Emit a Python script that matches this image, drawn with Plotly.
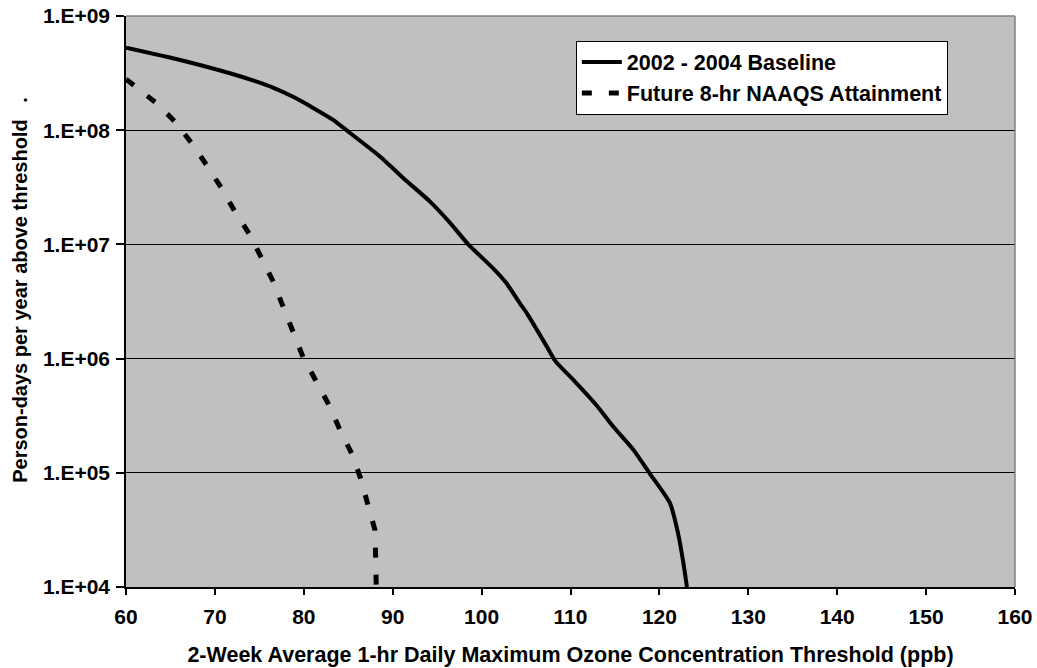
import plotly.graph_objects as go

# ---- data ----
baseline_x = [60, 66.1, 71.7, 74.7, 76.6, 78.8, 81.1, 83.3, 84.8, 88.6, 91.2, 94.2, 96.5,
              98.5, 101.3, 102.8, 104.3, 105.1, 107.3, 108.3, 110.5, 112.9, 114.8, 117.1,
              118.9, 121.2, 122.1, 122.7, 123.1]
baseline_y = [5.28e8, 4.12e8, 3.15e8, 2.66e8, 2.35e8, 1.96e8, 1.56e8, 1.23e8, 1.0e8,
              5.86e7, 3.8e7, 2.37e7, 1.53e7, 1.0e7, 6.17e6, 4.57e6, 3.05e6, 2.49e6,
              1.29e6, 9.5e5, 6.3e5, 3.93e5, 2.54e5, 1.58e5, 9.9e4, 5.4e4, 2.95e4,
              1.62e4, 1.0e4]

future_x = [60, 63.45, 65.5, 67.4, 69.07, 70.76, 72.26, 73.95, 75.26, 76.57, 78.2,
            79.94, 81.33, 82.83, 84.07, 85.38, 86.4, 87.26, 88.0, 88.08, 88.15]
future_y = [2.8e8, 1.72e8, 1.19e8, 7.67e7, 4.95e7, 3.09e7, 1.93e7, 1.21e7, 7.55e6,
            4.71e6, 2.24e6, 1.02e6, 6.46e5, 3.93e5, 2.37e5, 1.48e5, 8.9e4, 5.33e4,
            3.16e4, 1.86e4, 1.0e4]

x_ticks = [60, 70, 80, 90, 100, 110, 120, 130, 140, 150, 160]
y_tickvals = [1e4, 1e5, 1e6, 1e7, 1e8, 1e9]
y_ticktext = ["1.E+04", "1.E+05", "1.E+06", "1.E+07", "1.E+08", "1.E+09"]

series_names = ["2002 - 2004 Baseline", "Future 8-hr NAAQS Attainment"]
x_title = "2-Week Average 1-hr Daily Maximum Ozone Concentration Threshold (ppb)"
y_title = "Person-days per year above threshold" + "\u00a0" * 3 + "."

FONT = "Arial, 'Liberation Sans', sans-serif"

fig = go.Figure()
fig.add_trace(go.Scatter(x=baseline_x, y=baseline_y, mode="lines", name=series_names[0],
                         line=dict(color="black", width=4, shape="spline", smoothing=0.6)))
fig.add_trace(go.Scatter(x=future_x, y=future_y, mode="lines", name=series_names[1],
                         line=dict(color="black", width=5, dash="10px,17px")))

fig.update_layout(
    width=1037, height=668,
    margin=dict(l=126, r=22, t=16, b=81, autoexpand=False),
    paper_bgcolor="white",
    plot_bgcolor="#C0C0C0",
    font=dict(family=FONT, size=21, color="black", weight="bold"),
    showlegend=True,
    legend=dict(
        x=0.506, y=0.957, xanchor="left", yanchor="top",
        bgcolor="white", bordercolor="black", borderwidth=1,
        font=dict(family=FONT, size=21.5, color="black", weight="bold"),
        tracegroupgap=0, itemwidth=40,
    ),
    xaxis=dict(
        type="linear", range=[60, 160], tickvals=x_ticks, automargin=False,
        showgrid=False, zeroline=False,
        showline=True, linecolor="black", linewidth=1.5,
        ticks="outside", ticklen=6, tickcolor="black", tickwidth=1.5,
        ticklabelstandoff=4, ticklabeloverflow="allow",
        tickfont=dict(family=FONT, size=21, color="black", weight="bold"),
        title=dict(text=x_title,
                   font=dict(family=FONT, size=21.5, color="black", weight="bold"), standoff=20),
    ),
    yaxis=dict(
        type="log", range=[4, 9], tickvals=y_tickvals, ticktext=y_ticktext, automargin=False,
        showgrid=True, gridcolor="black", gridwidth=1,
        zeroline=False,
        showline=True, linecolor="black", linewidth=1.5,
        ticks="outside", ticklen=8, tickcolor="black", tickwidth=1.5,
        ticklabelstandoff=2, ticklabeloverflow="allow",
        tickfont=dict(family=FONT, size=21, color="black", weight="bold"),
    ),
    shapes=[
        dict(type="line", xref="paper", yref="paper", x0=0, x1=1, y0=1, y1=1,
             line=dict(color="#808080", width=1.5), layer="above"),
        dict(type="line", xref="paper", yref="paper", x0=1, x1=1, y0=0, y1=1,
             line=dict(color="#808080", width=1.5), layer="above"),
    ],
    annotations=[
        dict(text=y_title, xref="paper", yref="paper", x=-0.12, y=0.521,
             xanchor="center", yanchor="middle", showarrow=False, textangle=-90,
             font=dict(family=FONT, size=20, color="black", weight="bold")),
    ],
)

fig.write_html("out.html", config={"displayModeBar": False},
               post_script="document.body.style.margin='0';")
